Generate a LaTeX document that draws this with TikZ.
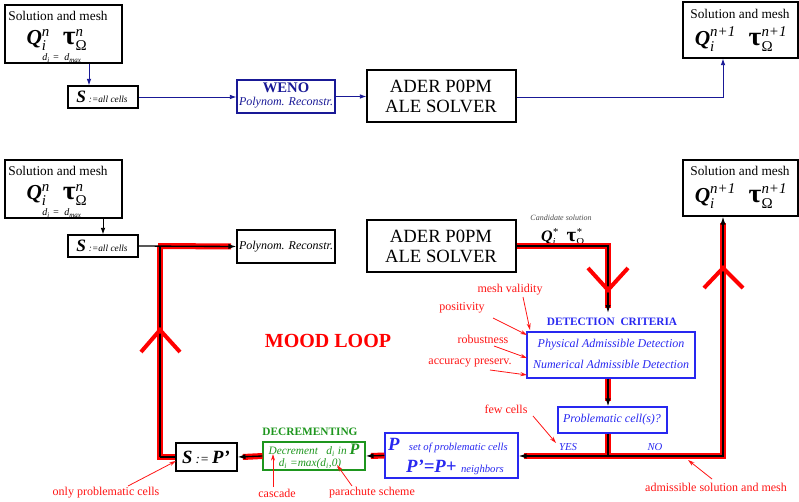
\documentclass[tikz,border=0pt]{standalone}
\usepackage{amsmath}
\usepackage{fontspec}
\setmainfont{Liberation Serif}
\usetikzlibrary{fit,arrows.meta,calc}
\definecolor{topblue}{RGB}{25,25,150}
\definecolor{detblue}{RGB}{40,40,240}
\definecolor{decgreen}{RGB}{30,150,30}
\definecolor{annred}{RGB}{255,20,20}
\newcommand\QT[1]{$\text{\bfseries\itshape Q}^{\text{\itshape #1}}_{\text{\itshape i}}$\hspace{0.6em}$\text{\bfseries\scalebox{1.3}[1.25]{τ}}^{\text{\itshape #1}}_{\text{Ω}}$}
\newcommand\dline{\itshape d$_{\text{\itshape i}}$ =\ \ d$_{\text{\itshape max}}$}
\begin{document}
\begin{tikzpicture}[x=0.75pt,y=-0.75pt,
  box/.style={draw,line width=0.8pt,inner sep=0pt},
  tx/.style={inner sep=0pt,anchor=center},
  arr/.style={-{Latex[length=5pt,width=3.5pt]},line width=0.7pt},
  redline/.style={red,line width=4.5pt},
  blackline/.style={black,line width=1pt},
  blk/.style={blackline,-{Latex[length=6pt,width=4pt]}},
  chev/.style={red,line width=3pt},
  ann/.style={annred,line width=0.6pt,-{Stealth[length=5pt,width=3pt]}},
  anntext/.style={annred,font=\fontsize{9}{10}\selectfont,inner sep=1pt}]
\useasboundingbox (0,0) rectangle (799,502);

% ---------------- top diagram ----------------
\node[box,fit={(5,5)(122,63)}] (sol1) {};
\node[tx] (sol1a) at (58,16) {\fontsize{10}{12}\selectfont Solution and mesh};
\node[tx] (sol1b) at (57,40) {\fontsize{16}{18}\selectfont\QT{n}};
\node[tx] (sol1c) at (62,58) {\fontsize{7.5}{8}\selectfont\dline};

\node[box,fit={(68,86)(138,108)}] (sbox1) {};
\node[tx] (sbox1t) at (102,97) {\fontsize{13}{14}\selectfont\bfseries\itshape S\,{\mdseries\fontsize{7}{8}\selectfont :=all cells}};

\node[box,draw=topblue,fit={(237,80)(335,113)}] (weno) {};
\node[tx,text=topblue] (wenot) at (286,88) {\fontsize{11}{12}\selectfont\bfseries WENO};
\node[tx,text=topblue] (wenop) at (286,103) {\fontsize{9}{10}\selectfont\itshape Polynom. Reconstr.};

\node[box,fit={(367,70)(516,122)}] (ader1) {};
\node[tx] (ader1a) at (441,86) {\fontsize{14}{16}\selectfont ADER P0PM};
\node[tx] (ader1b) at (441,106) {\fontsize{14}{16}\selectfont ALE SOLVER};

\node[box,fit={(683,2)(798,58)}] (sol2) {};
\node[tx] (sol2a) at (740,14) {\fontsize{10}{12}\selectfont Solution and mesh};
\node[tx] (sol2b) at (741,39) {\fontsize{16}{18}\selectfont\QT{n+1}};

\coordinate (vt) at (723,0);
\draw[arr,topblue] (sol1.south -| 89,0) -- (sbox1.north -| 89,0);
\draw[arr,topblue] (sbox1.east) -- (sbox1.east -| weno.west);
\draw[arr,topblue] (weno.east) -- (weno.east -| ader1.west);
\draw[arr,topblue] (ader1.east |- 0,97) -- (vt |- 0,97) -- (vt |- sol2.south);

% ---------------- bottom diagram ----------------
\node[box,fit={(5,160)(122,218)}] (sol3) {};
\node[tx] (sol3a) at (58,171) {\fontsize{10}{12}\selectfont Solution and mesh};
\node[tx] (sol3b) at (57,195) {\fontsize{16}{18}\selectfont\QT{n}};
\node[tx] (sol3c) at (62,213) {\fontsize{7.5}{8}\selectfont\dline};

\node[box,fit={(68,235)(138,257)}] (sbox2) {};
\node[tx] (sbox2t) at (102,246) {\fontsize{13}{14}\selectfont\bfseries\itshape S\,{\mdseries\fontsize{7}{8}\selectfont :=all cells}};

\node[box,fit={(237,230)(335,263)}] (poly) {};
\node[tx] (polyt) at (286,247) {\fontsize{9}{10}\selectfont\itshape Polynom. Reconstr.};

\node[box,fit={(367,220)(516,272)}] (ader2) {};
\node[tx] (ader2a) at (441,236) {\fontsize{14}{16}\selectfont ADER P0PM};
\node[tx] (ader2b) at (441,256) {\fontsize{14}{16}\selectfont ALE SOLVER};

\node[box,fit={(683,160)(798,216)}] (sol4) {};
\node[tx] (sol4a) at (740,171) {\fontsize{10}{12}\selectfont Solution and mesh};
\node[tx] (sol4b) at (741,196) {\fontsize{16}{18}\selectfont\QT{n+1}};

\node[tx,text=black!70] (cand) at (561,218) {\fontsize{6}{7}\selectfont\itshape Candidate solution};
\node[tx] (candq) at (563,237) {\fontsize{12}{14}\selectfont$\text{\bfseries\itshape Q}^{\text{\itshape *}}_{\text{\itshape i}}$\hspace{0.5em}$\text{\bfseries\scalebox{1.3}[1.25]{τ}}^{\text{\itshape *}}_{\text{Ω}}$};

\node[tx,text=detblue] (dettitle) at (612,322) {\fontsize{8.5}{10}\selectfont\bfseries DETECTION\ \ CRITERIA};
\node[box,draw=detblue,fit={(527,332)(695,378)}] (det) {};
\node[tx,text=detblue] (deta) at (611,345) {\fontsize{9}{10}\selectfont\itshape Physical Admissible Detection};
\node[tx,text=detblue] (detb) at (611,364) {\fontsize{9}{10}\selectfont\itshape Numerical Admissible Detection};

\node[box,draw=detblue,fit={(558,407)(667,433)}] (prob) {};
\node[tx,text=detblue] (probt) at (612,420) {\fontsize{9}{10}\selectfont\itshape Problematic cell(s)?};

\node[tx,text=detblue] (yes) at (568,447) {\fontsize{8}{9}\selectfont\itshape YES};
\node[tx,text=detblue] (no) at (655,447) {\fontsize{8}{9}\selectfont\itshape NO};

\node[box,draw=detblue,fit={(385,433)(518,478)}] (pbox) {};
\node[tx,text=detblue] (pboxa) at (448,446) {\fontsize{14}{15}\selectfont\bfseries\itshape P\ \ {\mdseries\fontsize{8}{9}\selectfont set of problematic cells}};
\node[tx,text=detblue] (pboxb) at (455,467) {\fontsize{14}{15}\selectfont\bfseries\itshape P’=P+\ {\mdseries\fontsize{8}{9}\selectfont neighbors}};

\node[tx,text=decgreen] (dectitle) at (310,432) {\fontsize{8.5}{10}\selectfont\bfseries DECREMENTING};
\node[box,draw=decgreen,fit={(263,442)(365,470)}] (dec) {};
\node[tx,text=decgreen] (deca) at (314,450) {\fontsize{8.5}{10}\selectfont\itshape Decrement\ \ \ d$_{\text{\itshape i}}$ in {\bfseries\fontsize{12}{13}\selectfont P}};
\node[tx,text=decgreen] (decb) at (310,464) {\fontsize{8.5}{10}\selectfont\itshape d$_{\text{\itshape i}}$ =max(d$_{\text{\itshape i}}$,0)};

\node[box,fit={(176,443)(237,471)}] (spbox) {};
\node[tx] (spboxt) at (206,457) {\fontsize{14}{15}\selectfont\bfseries\itshape S\,{\mdseries\fontsize{10}{11}\selectfont :=}\,P’};

\node[tx,text=red] (mood) at (328,341) {\fontsize{15}{17}\selectfont\bfseries MOOD LOOP};

% loop coordinates
\coordinate (vl) at (160,0);
\coordinate (vx) at (608,0);
\coordinate (vr) at (723,0);
\coordinate (split) at (608,456);
\coordinate (detin) at (608,313);

% red loop underlay
\draw[redline] (vl |- sbox2.east) -- ([xshift=-4pt]poly.west);
\draw[redline] (ader2.east) -- (vx |- ader2.east) -- ([yshift=4pt]detin);
\draw[redline] (vx |- det.south) -- ([yshift=4pt]vx |- prob.north);
\draw[redline] (vx |- prob.south) -- (split) -- ([xshift=4pt]split -| pbox.east);
\draw[redline] (split) -- (split -| vr) -- ([yshift=-5pt]vr |- sol4.south);
\draw[redline] (pbox.west) -- ([xshift=4pt]dec.east);
\draw[redline] (dec.west) -- ([xshift=4pt]spbox.east);
\draw[redline,line join=miter] (spbox.west) -- (vl |- spbox.west) -- (vl |- sbox2.east) -- +(-2,0);

% black centre lines with tips
\draw[blk] (sbox2.east) -- (poly.west);
\draw[blackline] (vl |- spbox.west) -- (vl |- sbox2.east);
\draw[blackline] (spbox.west) -- (vl |- spbox.west);
\draw[blk] (ader2.east) -- (vx |- ader2.east) -- (detin);
\draw[blk] (vx |- det.south) -- (vx |- prob.north);
\draw[blackline] (vx |- prob.south) -- (split);
\draw[blk] (split) -- (split -| pbox.east);
\draw[blk] (split) -- (split -| vr) -- (vr |- sol4.south);
\draw[blk] (pbox.west) -- (dec.east);
\draw[blk] (dec.west) -- (spbox.east);
\draw[arr] (sol3.south -| sbox2.north) -- (sbox2.north);

% chevrons
\draw[chev] (588,268) -- (608,290) -- (628,268);
\draw[chev] (141,352) -- (160,330) -- (180,352);
\draw[chev] (704,288) -- (723,268) -- (743,288);

% annotations
\node[anntext] (a1) at (510,290) {mesh validity};
\node[anntext] (a2) at (462,308) {positivity};
\node[anntext] (a3) at (483,339) {robustness};
\node[anntext] (a4) at (470,363) {accuracy preserv.};
\node[anntext] (a5) at (506,409) {few cells};
\node[anntext] (a6) at (716,487) {admissible solution and mesh};
\node[anntext] (a7) at (106,493) {only problematic cells};
\node[anntext] (a8) at (277,493) {cascade};
\node[anntext] (a9) at (372,493) {parachute scheme};
\coordinate (t1) at (530,330);
\coordinate (t2) at (527,335);
\coordinate (t3) at (527,358);
\coordinate (t4) at (527,375);
\coordinate (t5) at (556,443);
\coordinate (t6) at (688,460);
\coordinate (t7) at (176,461);
\coordinate (t8) at (273,454);
\coordinate (t9) at (337,465);
\draw[ann] (523,297) -- (t1);
\draw[ann] (493,318) -- (t2);
\draw[ann] (494,346) -- (t3);
\draw[ann] (490,370) -- (t4);
\draw[ann] (533,416) -- (t5);
\draw[ann] (712,479) -- (t6);
\draw[ann] (128,486) -- (t7);
\draw[ann] (a8.north -| t8) -- (t8);
\draw[ann] (352,486) -- (t9);
\end{tikzpicture}
\end{document}
